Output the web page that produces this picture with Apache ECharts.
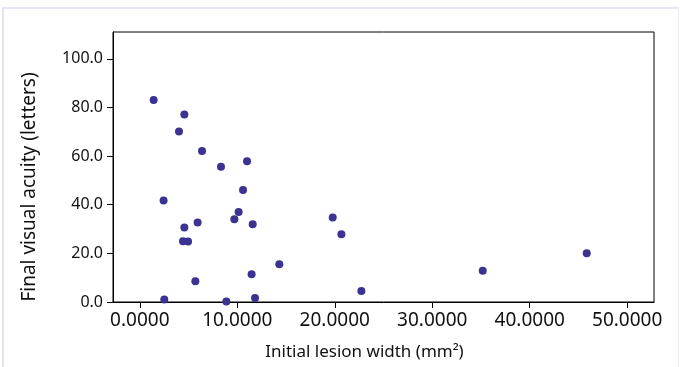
<!DOCTYPE html>
<html>
<head>
<meta charset="utf-8">
<script src="https://cdn.jsdelivr.net/npm/echarts@6/dist/echarts.min.js"></script>
<style>
  html, body { margin: 0; padding: 0; background: #fff; }
  #frame {
    position: absolute; left: 2px; top: 7px; width: 674px; height: 380px;
    border-left: 2px solid #e2e2f3; border-top: 2px solid #e6e6f6; border-right: 1px solid #ececf4;
  }
  #chart { position: absolute; left: 0; top: 0; width: 680px; height: 367px; }
</style>
</head>
<body>
<div id="frame"></div>
<div id="chart"></div>
<script>
// Initial lesion width (mm2)
const lesionWidth = [1.42, 4.57, 4.02, 6.38, 8.33, 11.0, 10.59, 2.44, 10.14, 9.70, 5.93, 11.58, 4.57,
  4.43, 4.95, 19.79, 20.68, 14.31, 11.47, 5.70, 22.73, 2.51, 8.88, 11.82, 35.18, 45.85];
// Final visual acuity (letters)
const finalAcuity = [83.0, 77.1, 70.1, 62.1, 55.6, 57.9, 46.0, 41.7, 37.0, 34.0, 32.7, 32.0, 30.6,
  25.0, 24.9, 34.7, 27.9, 15.5, 11.4, 8.5, 4.5, 1.0, 0.2, 1.6, 12.8, 20.0];
const xTicks = [0, 10, 20, 30, 40, 50];
const yTicks = [0, 20, 40, 60, 80, 100];

const chart = echarts.init(document.getElementById("chart"));
const font = "Noto Sans";

chart.setOption({
  animation: false,
  grid: {
    left: 113, top: 32, right: 26, bottom: 65,
    show: true, borderColor: "#000", borderWidth: 1,
  },
  xAxis: {
    type: "value",
    min: -2.75,
    max: 52.75,
    splitLine: { show: false },
    axisLine: { show: true, onZero: false, lineStyle: { color: "#000" } },
    axisTick: { show: true, length: 6, lineStyle: { color: "#000" }, customValues: xTicks },
    axisLabel: {
      customValues: xTicks,
      formatter: (v) => v.toFixed(4),
      color: "#111", fontFamily: font, fontSize: 19, margin: 9,
    },
    name: "Initial lesion width (mm²)",
    nameLocation: "middle",
    nameGap: 42,
    nameTextStyle: { color: "#111", fontFamily: font, fontSize: 17, padding: [0, 38, 0, 0] },
  },
  yAxis: {
    type: "value",
    min: 0,
    max: 111,
    splitLine: { show: false },
    axisLine: { show: true, onZero: false, lineStyle: { color: "#000" } },
    axisTick: { show: true, length: 6, lineStyle: { color: "#000" }, customValues: yTicks },
    axisLabel: {
      customValues: yTicks,
      formatter: (v) => v.toFixed(1),
      color: "#111", fontFamily: font, fontSize: 16, margin: 10,
    },
    name: "Final visual acuity (letters)",
    nameLocation: "middle",
    nameGap: 74,
    nameTextStyle: { color: "#111", fontFamily: font, fontSize: 19, padding: [0, 40, 0, 0] },
  },
  series: [
    {
      type: "scatter",
      symbolSize: 8,
      itemStyle: { color: "#3b3291", opacity: 1 },
      data: lesionWidth.map((x, i) => [x, finalAcuity[i]]),
    },
  ],
});
</script>
</body>
</html>
